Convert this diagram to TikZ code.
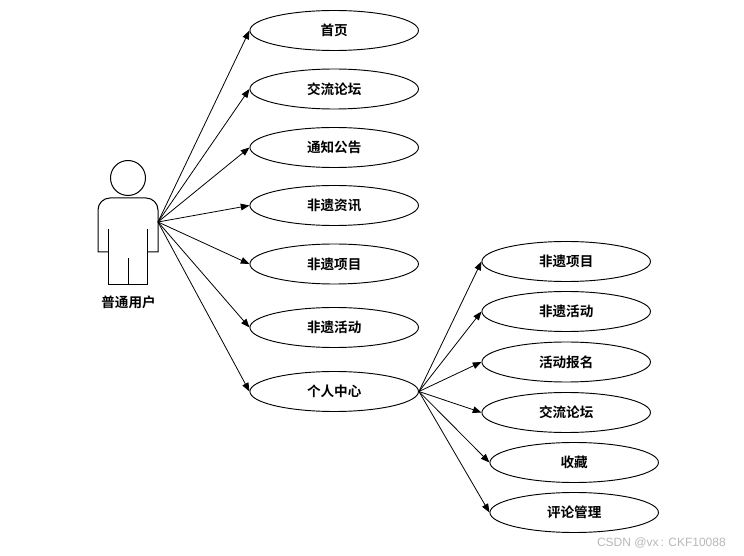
\documentclass[tikz,border=0pt]{standalone}
\usepackage{fontspec}
\setmainfont{Noto Sans CJK SC}[BoldFont={Noto Sans CJK SC Bold}]
\newfontfamily\latinfont{Liberation Sans}
\usetikzlibrary{arrows.meta,shapes.geometric}
\tikzset{
  x=0.75pt,y=-0.75pt,
  usecase/.style={draw=black,fill=white,ellipse,minimum width=126.4pt,minimum height=30pt,inner sep=0pt,line width=0.7pt,font=\bfseries\fontsize{10.2}{11}\selectfont},
  link/.style={draw=black,line width=0.6pt,-{Triangle[length=6.5pt,width=5pt]}},
  actorline/.style={draw=black,line width=0.75pt},
  actorlabel/.style={inner sep=0pt,font=\bfseries\fontsize{10.2}{11}\selectfont},
  mark text/.style={inner sep=0pt,text=black!28,font=\latinfont\fontsize{9}{11}\selectfont}
}
\begin{document}
\begin{tikzpicture}
\useasboundingbox (0,0) rectangle (744,556);
\fill[white] (0,0) rectangle (744,556);
% actor
\node[draw=black,line width=0.75pt,circle,minimum size=26.25pt,inner sep=0pt] (head) at (128,178) {};
\draw[actorline] (108,252) -- (98,252) -- (98,210) arc[start angle=180,end angle=270,radius=12] -- (146,198) arc[start angle=270,end angle=360,radius=12] -- (158,252) -- (147.5,252);
\draw[actorline] (108,229) -- (108,285) -- (147.5,285) -- (147.5,229);
\draw[actorline] (128,258) -- (128,285);
\coordinate (hub) at (158,222);
\node[actorlabel] (user) at (128.5,302.5) {普通用户};
% left cases
\node[usecase] (a1) at (334.2,30.5) {首页};
\node[usecase] (a2) at (334.2,89) {交流论坛};
\node[usecase] (a3) at (334.2,147.5) {通知公告};
\node[usecase] (a4) at (334.2,205.5) {非遗资讯};
\node[usecase] (a5) at (334.2,264) {非遗项目};
\node[usecase] (a6) at (334.2,327.5) {非遗活动};
\node[usecase] (a7) at (334.2,391.5) {个人中心};
% right cases
\node[usecase] (b1) at (566.2,261.5) {非遗项目};
\node[usecase] (b2) at (566.2,311.5) {非遗活动};
\node[usecase] (b3) at (566.2,362) {活动报名};
\node[usecase] (b4) at (566.2,412.5) {交流论坛};
\node[usecase] (b5) at (574.2,462.5) {收藏};
\node[usecase] (b6) at (574.2,512.5) {评论管理};
% connectors
\foreach \n in {a1,a2,a3,a4,a5,a6,a7}
  \draw[link] (hub) -- (\n.west);
\foreach \n in {b1,b2,b3,b4,b5,b6}
  \draw[link] (a7.east) -- (\n.west);
\node[mark text,anchor=east] (csdn) at (726,543) {CSDN @vx\,: CKF10088};
\end{tikzpicture}
\end{document}
